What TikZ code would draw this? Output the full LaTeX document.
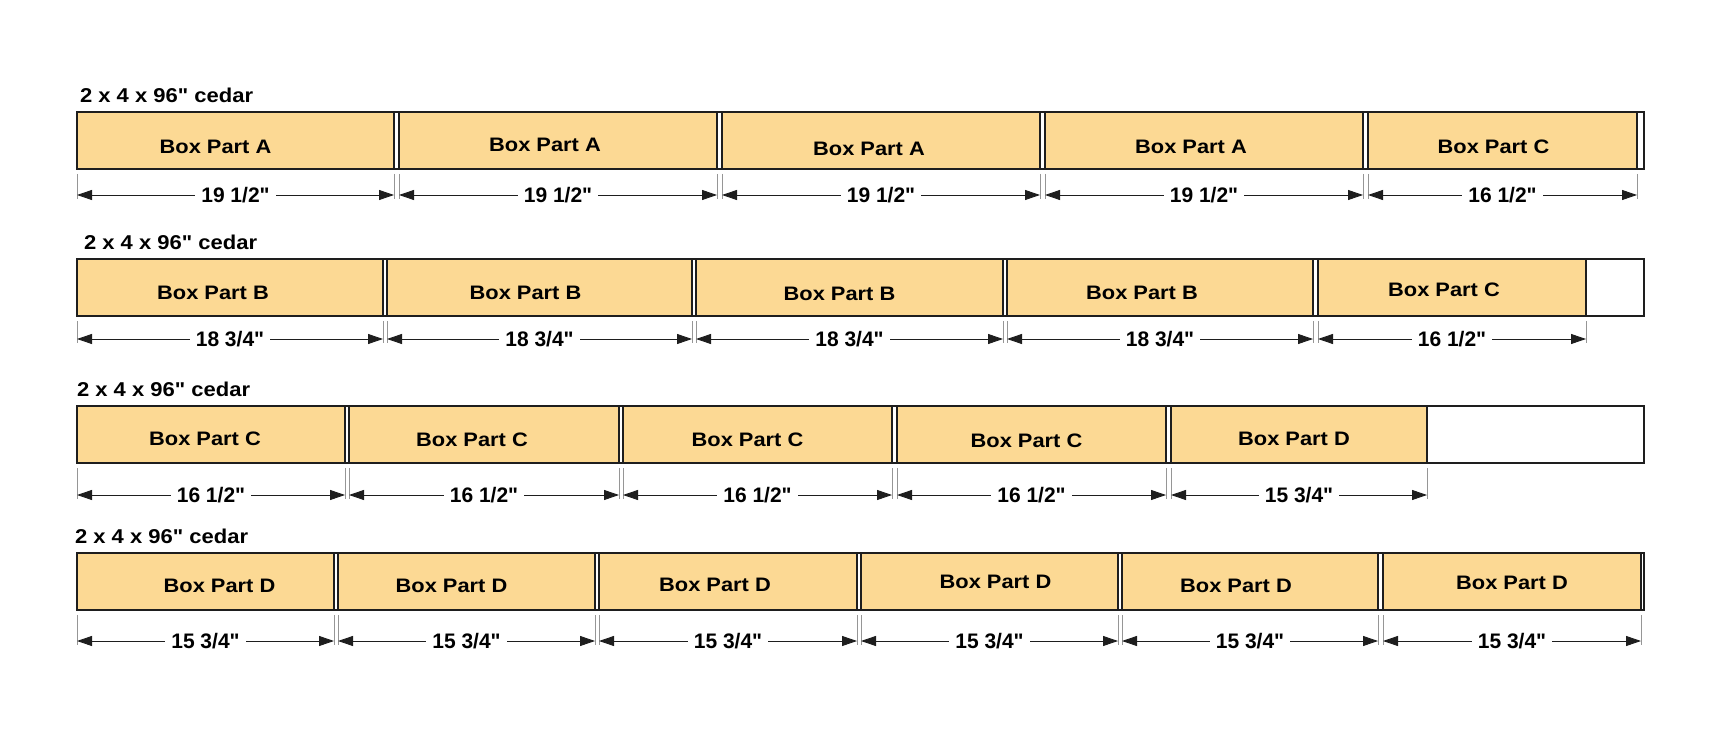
\documentclass[tikz,border=0pt]{standalone}
\usepackage{fontspec}
\setmainfont{Liberation Sans}[Ligatures=TeXOff]
\usepackage{graphicx}
\usetikzlibrary{positioning,arrows.meta}
\definecolor{cdWood}{RGB}{252,217,148}
\definecolor{cdEdge}{RGB}{30,30,30}
\definecolor{cdGuide}{RGB}{150,150,150}
% straight inch mark and cut lengths per part
\newcommand{\inch}{\char34\relax}
\newcommand{\dimA}{19 1/2\inch}
\newcommand{\dimB}{18 3/4\inch}
\newcommand{\dimC}{16 1/2\inch}
\newcommand{\dimD}{15 3/4\inch}
\tikzset{
    base/.style={inner sep=0pt, outer sep=0pt, text=black},
    board/.style={rectangle, draw=cdEdge, line width=2pt, fill=white,
                  minimum height=57pt, inner sep=0pt, outer sep=0pt, anchor=north west},
    piece/.style={rectangle, draw=cdEdge, line width=1.6pt, fill=cdWood,
                  minimum height=57pt, inner sep=0pt, outer sep=0pt, anchor=north west},
    title/.style={base, font=\fontsize{20}{24}\selectfont\bfseries, anchor=west},
    part/.style={base, font=\fontsize{19.5}{23}\selectfont\bfseries},
    dimtext/.style={base, font=\fontsize{21}{24}\selectfont\bfseries, fill=white,
                    inner xsep=6pt, inner ysep=1pt},
    guide/.style={cdGuide, line width=0.8pt},
    dimline/.style={{Triangle[length=15pt,width=10pt]}-{Triangle[length=15pt,width=10pt]},
                    line width=0.9pt, cdEdge}
}

\begin{document}
\begin{tikzpicture}[x=1pt, y=-1pt]
  \useasboundingbox (0,0) rectangle (1725,730);

  % one row per board: number / top / title x / dimension gap / board end / cuts
  \foreach \r/\top/\tx/\gap/\bend/\cuts in {
      1/112/80/26/1644/{77/394/A/-20/6.5, 399/717/A/-13/4, 722/1040/A/-12/8,
                        1045/1363/A/-13/6, 1368/1637/C/-9/6},
      2/259/84/23/1644/{77/383/B/-17/5, 387/692/B/-14/5, 696/1003/B/-10/6,
                        1007/1313/B/-18/5, 1318/1586/C/-8/2},
      3/406/77/32/1644/{77/345/C/-6/4, 349/619/C/-12/5.5, 623/892/C/-10/5.5,
                        897/1166/C/-5/6.5, 1171/1427/D/-5/4},
      4/553/75/31/1644/{77/334/D/14/4.5, 338/595/D/-15/4, 599/857/D/-13/3,
                        861/1118/D/6/0, 1122/1378/D/-14/4.5, 1383/1641/D/0/1}} {
    % the board and its name
    \node[board, minimum width={(\bend-77)*1pt}] (b\r) at (77,\top) {};
    \node[title] (t\r) at (\tx,{\top-17}) {\scalebox{1.1}[1]{2 x 4 x 96\inch{} cedar}};

    \foreach \xs/\xe/\p/\dx/\dy [count=\i] in \cuts {
      % cut piece with its label
      \node[piece, minimum width={(\xe-\xs)*1pt}] (c\r-\i) at (\xs,\top) {};
      \node[part] (l\r-\i) at ([shift={(\dx,\dy)}]c\r-\i.center)
        {\scalebox{1.12}[1]{Box Part \p}};

      % dimension below the piece
      \draw[guide] ([shift={(0,5)}]c\r-\i.south west) -- ++(0,\gap-1);
      \draw[guide] ([shift={(0,5)}]c\r-\i.south east) -- ++(0,\gap-1);
      \draw[dimline] ([shift={(0,\gap)}]c\r-\i.south west)
        -- node[dimtext] (d\r-\i) {\csname dim\p\endcsname}
        ([shift={(0,\gap)}]c\r-\i.south east);
    }
  }
\end{tikzpicture}
\end{document}
